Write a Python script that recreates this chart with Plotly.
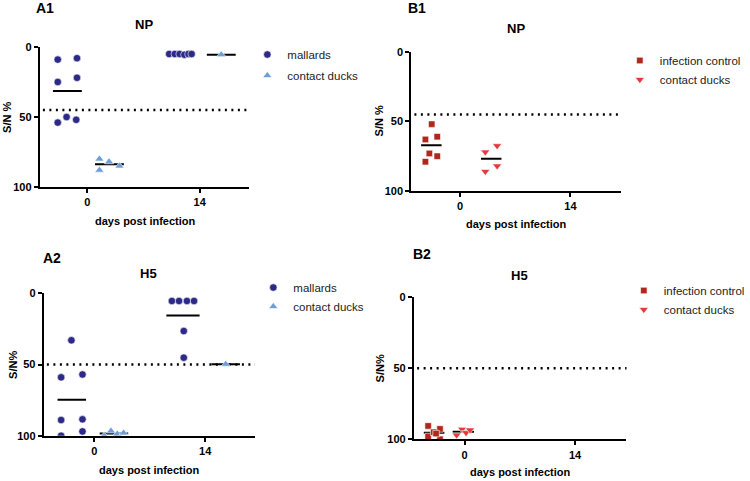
import plotly.graph_objects as go
import numpy as np

# ---------------- data ----------------
# A1 NP (mallards / contact ducks)
a1_mall_d0 = [9, 8, 25, 22, 54, 50, 52]
a1_mall_d0_x = [-3.7, -1.3, -3.7, -1.3, -3.7, -2.6, -1.4]
a1_cont_d0 = [80, 88, 82, 85]
a1_cont_d0_x = [1.5, 1.5, 2.7, 4.0]
a1_mall_d14 = [5, 5, 5, 5.5, 5, 5]
a1_mall_d14_x = [10.2, 10.9, 11.5, 12.1, 12.6, 13.0]
a1_cont_d14 = [5.5]
a1_cont_d14_x = [16.7]

# B1 NP (infection control / contact ducks)
b1_ctrl_d0 = [52, 63, 61, 73, 75, 79]
b1_ctrl_d0_x = [-3.6, -4.4, -2.9, -3.9, -2.9, -4.4]
b1_cont_d0 = [72, 67.5, 86, 82]
b1_cont_d0_x = [3.2, 4.7, 3.2, 4.7]

# A2 H5 (mallards / contact ducks)
a2_mall_d0 = [59, 33, 57, 89, 88.5, 100, 97]
a2_mall_d0_x = [-4.2, -2.9, -1.5, -4.2, -1.5, -4.2, -1.5]
a2_cont_d0 = [100, 96.7, 98.8, 98.1]
a2_cont_d0_x = [1.25, 2.1, 2.9, 3.7]
a2_mall_d14 = [5.4, 5.4, 5.4, 5.4, 26.5, 45.2]
a2_mall_d14_x = [9.8, 10.7, 11.7, 12.6, 11.3, 11.3]
a2_cont_d14 = [49.8]
a2_cont_d14_x = [16.6]

# B2 H5 (infection control / contact ducks)
b2_ctrl_d0 = [90.6, 98, 92.7, 100, 95, 96]
b2_ctrl_d0_x = [-4.6, -4.6, -3.1, -3.1, -3.9, -3.6]
b2_cont_d0 = [97, 93, 95.3, 93.4]
b2_cont_d0_x = [-1.0, -0.3, 0.2, 0.7]

thresholds = {"A1": 45, "B1": 45, "A2": 50, "B2": 50}
x_tick_vals = [0, 14]
x_tick_text = ["0", "14"]
y_tick_vals = [0, 50, 100]
y_tick_text = ["0", "50", "100"]

# ---------------- style ----------------
C_MALL = "#2c2a86"
C_CONT_A = "#6e9ed6"
C_CTRL = "#b3261c"
C_CONT_B = "#e23b3b"
FONT = "Liberation Sans, Arial, sans-serif"
W, H = 750, 481

fig = go.Figure()

# panel geometry in pixels: (left, right, top(y=0), bottom(y=100)), x range
panels = {
    "A1": dict(ax="", px=(40, 251, 47, 187), xr=(-5.95, 20.2)),
    "B1": dict(ax="2", px=(414, 625, 51.7, 191), xr=(-6.2, 20.4)),
    "A2": dict(ax="3", px=(44, 256.7, 293.3, 435.7), xr=(-6.4, 20.3)),
    "B2": dict(ax="4", px=(416.7, 630.7, 297.3, 439.3), xr=(-6.4, 20.5)),
}

for name, p in panels.items():
    l, r, t, b = p["px"]
    xa = dict(domain=[l / W, r / W], range=list(p["xr"]), showline=True, linecolor="black",
              linewidth=2, ticks="outside", ticklen=4, tickwidth=2, tickcolor="black",
              tickvals=x_tick_vals, ticktext=x_tick_text, showgrid=False, zeroline=False,
              tickfont=dict(family=FONT, size=11, color="black", weight="bold"),
              anchor="y" + p["ax"], fixedrange=True)
    ya = dict(domain=[1 - b / H, 1 - t / H], range=[100, 0], showline=True, linecolor="black",
              linewidth=2, ticks="outside", ticklen=4, tickwidth=2, tickcolor="black",
              tickvals=y_tick_vals, ticktext=y_tick_text, showgrid=False, zeroline=False,
              tickfont=dict(family=FONT, size=11, color="black", weight="bold"),
              anchor="x" + p["ax"], fixedrange=True)
    fig.update_layout({"xaxis" + p["ax"]: xa, "yaxis" + p["ax"]: ya})
    fig.add_shape(type="line", xref="x" + p["ax"] + " domain", yref="y" + p["ax"],
                  x0=0.015, x1=1.0, y0=thresholds[name], y1=thresholds[name],
                  line=dict(color="black", width=2.5, dash="2px,4.5px"), layer="below")


def group(xs, ys, ax, color, symbol, name, legend, show, size, half):
    xref = "x" + ax
    yref = "y" + ax
    mean = float(np.mean(ys))
    c = (min(xs) + max(xs)) / 2
    fig.add_trace(go.Scatter(x=[c - half, c + half], y=[mean, mean], mode="lines", xaxis=xref, yaxis=yref,
                             line=dict(color="black", width=2), showlegend=False, hoverinfo="skip"))
    fig.add_trace(go.Scatter(x=xs, y=ys, mode="markers", xaxis=xref, yaxis=yref, name=name,
                             marker=dict(color=color, symbol=symbol, size=size,
                                         line=dict(width=0.6, color="white")),
                             showlegend=show, legend=legend, legendgroup=legend + name))


HA, HB = 1.8, 1.3
group(a1_mall_d0_x, a1_mall_d0, "", C_MALL, "circle", "mallards", "legend", True, 7.5, HA)
group(a1_cont_d0_x, a1_cont_d0, "", C_CONT_A, "triangle-up", "contact ducks", "legend", True, 8, HA)
group(a1_mall_d14_x, a1_mall_d14, "", C_MALL, "circle", "mallards", "legend", False, 7.5, HA)
group(a1_cont_d14_x, a1_cont_d14, "", C_CONT_A, "triangle-up", "contact ducks", "legend", False, 8, HA)

group(b1_ctrl_d0_x, b1_ctrl_d0, "2", C_CTRL, "square", "infection control", "legend2", True, 6.5, HB)
group(b1_cont_d0_x, b1_cont_d0, "2", C_CONT_B, "triangle-down", "contact ducks", "legend2", True, 8, HB)

group(a2_mall_d0_x, a2_mall_d0, "3", C_MALL, "circle", "mallards", "legend3", True, 7.5, HA)
group(a2_cont_d0_x, a2_cont_d0, "3", C_CONT_A, "triangle-up", "contact ducks", "legend3", True, 8, HA)
group(a2_mall_d14_x, a2_mall_d14, "3", C_MALL, "circle", "mallards", "legend3", False, 7.5, 2.1)
group(a2_cont_d14_x, a2_cont_d14, "3", C_CONT_A, "triangle-up", "contact ducks", "legend3", False, 8, HA)

group(b2_ctrl_d0_x, b2_ctrl_d0, "4", C_CTRL, "square", "infection control", "legend4", True, 6.5, HB)
group(b2_cont_d0_x, b2_cont_d0, "4", C_CONT_B, "triangle-down", "contact ducks", "legend4", True, 8, 1.35)

leg_font = dict(family=FONT, size=11.5, color="#222")


def leg(xpx, ypx, gap):
    return dict(x=xpx / W, y=1 - ypx / H, xanchor="left", yanchor="top", bgcolor="rgba(0,0,0,0)",
                font=leg_font, tracegroupgap=gap, itemsizing="trace", borderwidth=0)


fig.update_layout(
    legend=leg(249, 40, 2),
    legend2=leg(624, 46, 0),
    legend3=leg(255, 273, 0),
    legend4=leg(628, 276, 0),
)

# text annotations (panel labels, titles, axis titles)
texts = [
    ("A1", 45, 8, 14, 0), ("NP", 145, 25, 13, 0), ("S/N %", 7, 117, 11, -90), ("days post infection", 146, 221, 11, 0),
    ("B1", 420, 8, 14, 0), ("NP", 519, 28, 13, 0), ("S/N %", 382, 121, 11, -90), ("days post infection", 520, 224, 11, 0),
    ("A2", 52, 258, 14, 0), ("H5", 149, 273, 13, 0), ("S/N%", 13, 365, 11, -90), ("days post infection", 151, 470, 11, 0),
    ("B2", 425, 254, 14, 0), ("H5", 523, 275, 13, 0), ("S/N%", 383, 368, 11, -90), ("days post infection", 524, 472, 11, 0),
]
for txt, xp, yp, sz, ang in texts:
    fig.add_annotation(text="<b>" + txt + "</b>", x=xp / W, y=1 - yp / H, xref="paper", yref="paper",
                       xanchor="center", yanchor="middle", showarrow=False, textangle=ang,
                       font=dict(family=FONT, size=sz, color="black"))

fig.update_layout(width=W, height=H, margin=dict(l=0, r=0, t=0, b=0), template="none",
                  paper_bgcolor="white", plot_bgcolor="white", font=dict(family=FONT))

fig.write_html("out.html", config={"displayModeBar": False},
               post_script="document.body.style.margin='0';document.body.style.overflow='hidden';")
